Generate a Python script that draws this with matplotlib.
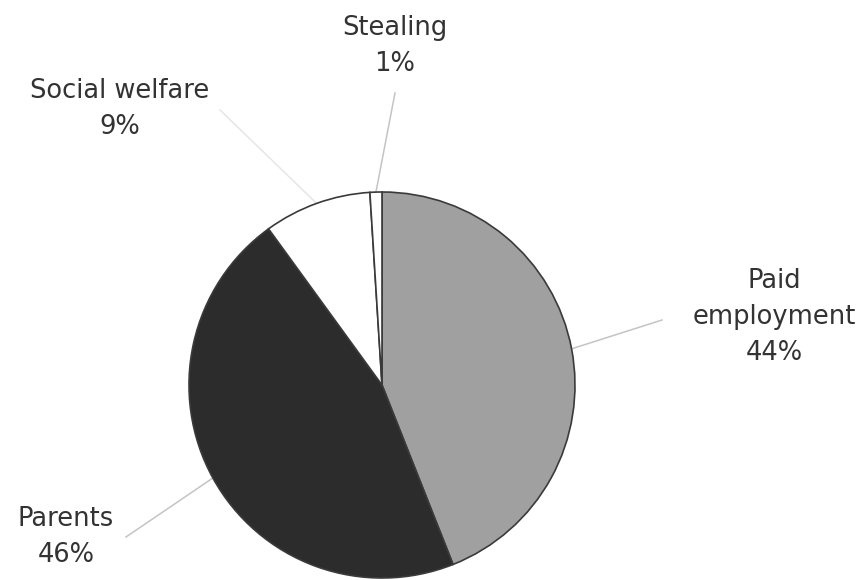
#!/usr/bin/env python3
"""
Pie chart: sources of money (grey-scale, labels with leader lines)
"""
import numpy as np
import matplotlib.pyplot as plt

# Data
CATEGORIES = ["Paid\nemployment", "Parents", "Social welfare", "Stealing"]
SHARES = [44, 46, 9, 1]
COLORS = ["#a0a0a0", "#2c2c2c", "#ffffff", "#ffffff"]

# Layout (figure units are pixels, y measured from the bottom)
FIG_W, FIG_H = 864, 580
PIE_CENTER = (382, 195)
PIE_RADIUS = 193
LABEL_POS = [(774, 263), (66, 43), (120, 471), (395, 534)]
LEADER_END = [(662, 260), (126, 43), (220, 470), (395, 487)]
TEXT_COLOR = "#333333"
EDGE_COLOR = "#3a3a3a"
LEADER_COLOR = ["#c4c4c4", "#c4c4c4", "#e6e6e6", "#c4c4c4"]

plt.rcParams["font.family"] = ["DejaVu Sans"]

fig = plt.figure(figsize=(FIG_W / 100, FIG_H / 100), dpi=100)
ax = fig.add_axes([0, 0, 1, 1])

wedges, _ = ax.pie(
    SHARES,
    colors=COLORS,
    startangle=90,
    counterclock=False,
    center=PIE_CENTER,
    radius=PIE_RADIUS,
    wedgeprops=dict(edgecolor=EDGE_COLOR, linewidth=1.2),
)

ax.set_xlim(0, FIG_W)
ax.set_ylim(0, FIG_H)
ax.set_aspect("equal")
ax.axis("off")

total = sum(SHARES)
for wedge, name, value, pos, end, lc in zip(
    wedges, CATEGORIES, SHARES, LABEL_POS, LEADER_END, LEADER_COLOR
):
    # leader line starts on the rim at the middle of the wedge
    mid = np.deg2rad((wedge.theta1 + wedge.theta2) / 2)
    x0 = PIE_CENTER[0] + PIE_RADIUS * np.cos(mid)
    y0 = PIE_CENTER[1] + PIE_RADIUS * np.sin(mid)
    ax.plot([x0, end[0]], [y0, end[1]], color=lc, linewidth=1.1, zorder=0)
    ax.text(
        pos[0],
        pos[1],
        f"{name}\n{round(100 * value / total)}%",
        ha="center",
        va="center",
        fontsize=18.5,
        color=TEXT_COLOR,
        linespacing=1.5,
    )

fig.savefig("out.png", dpi=100, facecolor="white")
